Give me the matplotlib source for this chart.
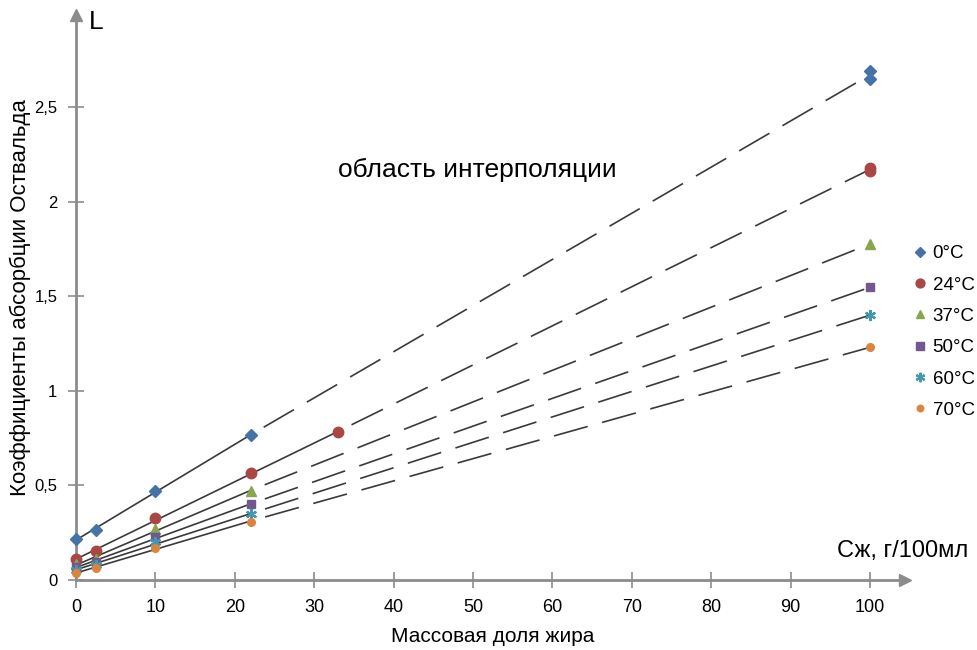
import numpy as np
import matplotlib
matplotlib.use('Agg')
import matplotlib.pyplot as plt

plt.rcParams['font.family'] = ['Liberation Sans', 'DejaVu Sans']

# measured data (fat content, g/100ml) -> Ostwald absorption coefficient
labels = ['0°C', '24°C', '37°C', '50°C', '60°C', '70°C']
x_low = [0, 2.5, 10, 22]
x_red = [0, 2.5, 10, 22, 33]
y_0 = [0.217, 0.264, 0.47, 0.766]
y_24 = [0.109, 0.153, 0.326, 0.564, 0.78]
y_37 = [0.085, 0.11, 0.27, 0.47]
y_50 = [0.07, 0.095, 0.226, 0.40]
y_60 = [0.055, 0.08, 0.20, 0.347]
y_70 = [0.035, 0.065, 0.171, 0.308]
x_high = 100
y_high = [[2.69, 2.65], [2.18, 2.16], [1.776], [1.547], [1.40], [1.23]]

colors = ['#4572A7', '#AA4643', '#89A54E', '#71588F', '#4198AF', '#DB843D']
markers = ['D', 'o', '^', 's', (6, 2, 0), 'o']
msizes = [6.5, 7.5, 6.5, 6, 8, 5.5]

series_x = [x_low, x_red, x_low, x_low, x_low, x_low]
series_y = [y_0, y_24, y_37, y_50, y_60, y_70]

fig = plt.figure(figsize=(9.77, 6.5), dpi=100)
ax = fig.add_axes([76 / 977, 70 / 650, 829 / 977, 565 / 650])
ax.set_xlim(0, 104.4)
ax.set_ylim(0, 2.986)

line_col = '#3a3a3a'
for xs, ys, yh in zip(series_x, series_y, y_high):
    k, b = np.polyfit(xs, ys, 1)
    x_end = max(xs)
    ax.plot([0, x_end], [b, k * x_end + b], color=line_col, lw=1.2, zorder=2)
    ax.plot([x_end, x_high], [k * x_end + b, np.mean(yh)], color=line_col, lw=1.2,
            linestyle=(21, (21, 9)), zorder=2)

handles = []
for xs, ys, yh, c, m, s, lab in zip(series_x, series_y, y_high, colors, markers, msizes, labels):
    allx = list(xs) + [x_high] * len(yh)
    ally = list(ys) + list(yh)
    if isinstance(m, tuple):
        h, = ax.plot(allx, ally, linestyle='none', marker=m, ms=s, mec=c, mew=1.6,
                     color=c, label=lab, zorder=3, clip_on=False)
    else:
        h, = ax.plot(allx, ally, linestyle='none', marker=m, ms=s, color=c, mec=c,
                     label=lab, zorder=3, clip_on=False)
    handles.append(h)

# axes with arrows
axis_col = '#8c8c8c'
for side in ['top', 'right']:
    ax.spines[side].set_visible(False)
for side in ['left', 'bottom']:
    ax.spines[side].set_color(axis_col)
    ax.spines[side].set_linewidth(2)
ax.plot(1, 0, marker='>', ms=9, color=axis_col, transform=ax.transAxes, clip_on=False)
ax.plot(0, 1, marker='^', ms=9, color=axis_col, transform=ax.transAxes, clip_on=False)

ax.set_xticks(range(0, 101, 10))
ax.set_yticks([0, 0.5, 1, 1.5, 2, 2.5])
ax.set_yticklabels(['0', '0,5', '1', '1,5', '2', '2,5'])
ax.tick_params(axis='x', direction='inout', length=11, width=1.2, color=axis_col,
               labelsize=13, pad=8)
ax.tick_params(axis='y', direction='inout', length=11, width=1.2, color=axis_col,
               labelsize=12, pad=8)

fig.text(89 / 977, 1 - 22 / 650, 'L', fontsize=19, va='center', ha='left')
fig.text(837 / 977, 1 - 551 / 650, 'Сж, г/100мл', fontsize=17, va='center', ha='left')
fig.text(477 / 977, 1 - 170 / 650, 'область интерполяции', fontsize=19,
         va='center', ha='center')
fig.text(493 / 977, 1 - 636 / 650, 'Массовая доля жира', fontsize=15,
         va='center', ha='center')
fig.text(20 / 977, 1 - 298 / 650, 'Коэффициенты абсорбции Оствальда', fontsize=16,
         va='center', ha='center', rotation=90)

fig.legend(handles=handles, loc='upper left', bbox_to_anchor=(912 / 977, 1 - 245 / 650),
           frameon=False, fontsize=13.5, handlelength=0.8, handletextpad=0.3,
           labelspacing=0.76, borderpad=0, borderaxespad=0, markerscale=0.85)

fig.savefig('out.png', dpi=100)
